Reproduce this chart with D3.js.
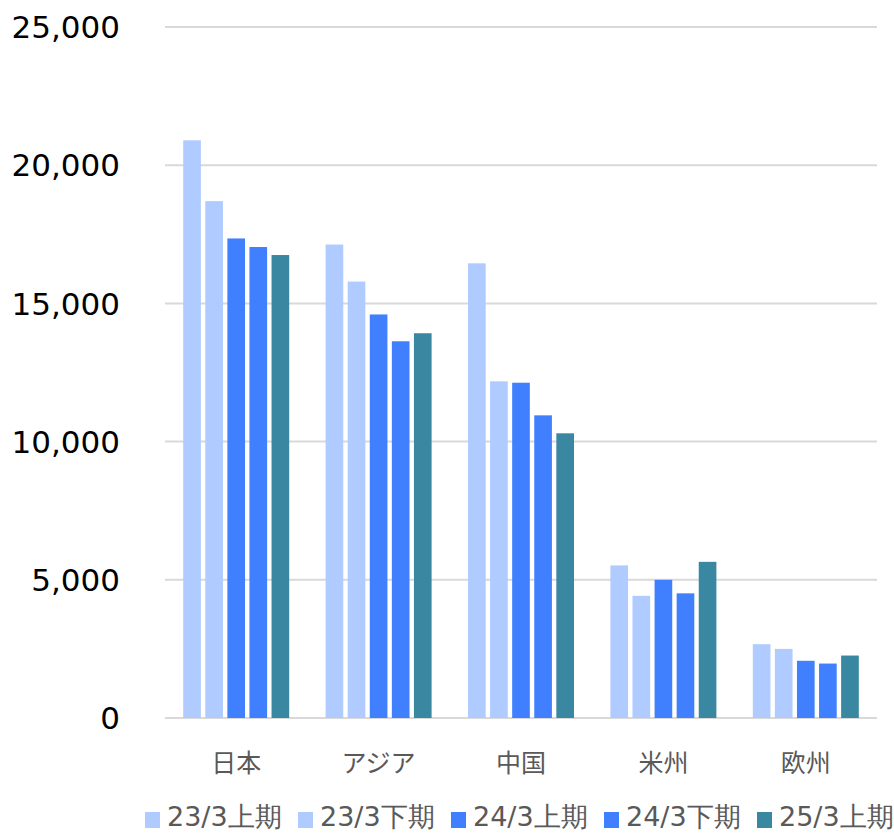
<!DOCTYPE html>
<html>
<head>
<meta charset="utf-8">
<script src="https://cdn.jsdelivr.net/npm/d3@7"></script>
<style>
body { margin: 0; background: #fff; }
</style>
</head>
<body>
<div id="chart"></div>
<script>
var categories = ["日本", "アジア", "中国", "米州", "欧州"];
var seriesNames = ["23/3上期", "23/3下期", "24/3上期", "24/3下期", "25/3上期"];
var seriesColors = ["#afcbff", "#afcbff", "#4080ff", "#4080ff", "#3a87a2"];
// one array per series, same order as categories
var s2303H1 = [20900, 17130, 16450, 5520, 2670];
var s2303H2 = [18700, 15790, 12180, 4420, 2500];
var s2403H1 = [17350, 14600, 12130, 5000, 2070];
var s2403H2 = [17040, 13630, 10950, 4510, 1970];
var s2503H1 = [16750, 13920, 10300, 5650, 2260];
var yTicks = [0, 5000, 10000, 15000, 20000, 25000];

var allSeries = [s2303H1, s2303H2, s2403H1, s2403H2, s2503H1];

var canvasWidth = 894;
var canvasHeight = 834;
var plotLeft = 165, plotRight = 877, plotTop = 27, plotBottom = 718;
var groupWidth = 106;

var svg = d3.select("#chart")
    .append("svg")
    .attr("width", canvasWidth)
    .attr("height", canvasHeight)
    .style("font-family", "'DejaVu Sans', Verdana, sans-serif");

var x = d3.scaleBand()
    .domain(categories)
    .range([plotLeft, plotRight]);

var xInner = d3.scaleBand()
    .domain(seriesNames)
    .range([0, groupWidth])
    .paddingInner(0.2);

var y = d3.scaleLinear()
    .domain([0, 25000])
    .range([plotBottom, plotTop]);

// gridlines
svg.append("g")
    .selectAll("line")
    .data(yTicks)
    .join("line")
    .attr("x1", plotLeft)
    .attr("x2", plotRight)
    .attr("y1", d => y(d))
    .attr("y2", d => y(d))
    .attr("stroke", "#d9d9d9")
    .attr("stroke-width", 2);

// y labels
svg.append("g")
    .selectAll("text")
    .data(yTicks)
    .join("text")
    .attr("x", 120)
    .attr("y", d => y(d))
    .attr("dy", "0.36em")
    .attr("text-anchor", "end")
    .attr("font-size", 31)
    .attr("fill", "#000")
    .text(d => d3.format(",")(d));

// bars
var groupOffset = (x.bandwidth() - groupWidth) / 2;
allSeries.forEach(function(vals, si) {
    svg.append("g")
        .selectAll("rect")
        .data(vals)
        .join("rect")
        .attr("x", (d, i) => x(categories[i]) + groupOffset + xInner(seriesNames[si]))
        .attr("width", xInner.bandwidth())
        .attr("y", d => y(d))
        .attr("height", d => y(0) - y(d))
        .attr("fill", seriesColors[si]);
});

// category labels
svg.append("g")
    .selectAll("text")
    .data(categories)
    .join("text")
    .attr("x", d => x(d) + x.bandwidth() / 2)
    .attr("y", 772)
    .attr("text-anchor", "middle")
    .attr("font-size", 25)
    .attr("fill", "#595959")
    .style("font-family", "'Noto Sans CJK JP', sans-serif")
    .text(d => d);

// legend
var legendX = [145, 298, 451, 604, 757];
var legend = svg.append("g")
    .selectAll("g")
    .data(seriesNames)
    .join("g")
    .attr("transform", (d, i) => "translate(" + legendX[i] + ",812)");

legend.append("rect")
    .attr("width", 15)
    .attr("height", 16)
    .attr("fill", (d, i) => seriesColors[i]);

legend.append("text")
    .attr("x", 22)
    .attr("y", 14)
    .attr("font-size", 27)
    .attr("fill", "#595959")
    .text(d => d);
</script>
</body>
</html>
